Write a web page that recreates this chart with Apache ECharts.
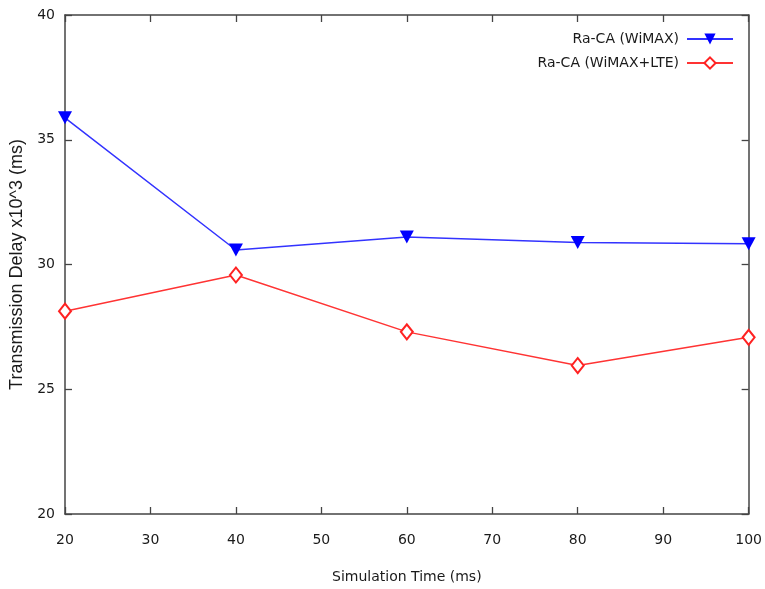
<!DOCTYPE html>
<html>
<head>
<meta charset="utf-8">
<script src="https://cdn.jsdelivr.net/npm/echarts@6/dist/echarts.min.js"></script>
<style>html,body{margin:0;padding:0;background:#fff}#c{width:765px;height:589px}</style>
</head>
<body>
<div id="c"></div>
<script>
var xValues = [20, 40, 60, 80, 100];
var wimax = [35.88, 30.58, 31.1, 30.88, 30.83];
var wimaxLte = [28.13, 29.58, 27.3, 25.95, 27.08];
var seriesNames = ['Ra-CA (WiMAX)', 'Ra-CA (WiMAX+LTE)'];
var xTitle = 'Simulation Time (ms)';
var yTitle = 'Transmission Delay x10^3 (ms)';

function pairs(ys){ return xValues.map(function(x,i){return [x, ys[i]];}); }

var font = 'DejaVu Sans';
var txtCol = '#1a1a1a';
var axisCol = '#444';
var chart = echarts.init(document.getElementById('c'));
var tickStyle = {inside: true, length: 7, lineStyle: {color: axisCol, width: 1.3}};
var lineStyleAx = {color: axisCol, width: 1.5};
chart.setOption({
  animation: false,
  grid: {left: 65, right: 15, top: 15, bottom: 75, containLabel: false},
  legend: {
    orient: 'vertical', right: 26, top: 27, align: 'right',
    itemWidth: 46, itemHeight: 14, itemGap: 10,
    textStyle: {fontFamily: font, fontSize: 14, color: txtCol, padding: [0, 3, 0, 0]},
    data: seriesNames
  },
  xAxis: [{
    type: 'value', min: 20, max: 100, interval: 10, position: 'bottom',
    name: xTitle, nameLocation: 'middle', nameGap: 56,
    nameTextStyle: {fontFamily: font, fontSize: 14, color: txtCol},
    axisLine: {show: true, onZero: false, lineStyle: lineStyleAx},
    axisTick: tickStyle,
    axisLabel: {fontFamily: font, fontSize: 14, color: txtCol, margin: 19},
    splitLine: {show: false}
  }, {
    type: 'value', min: 20, max: 100, interval: 10, position: 'top',
    axisLine: {show: true, onZero: false, lineStyle: lineStyleAx},
    axisTick: tickStyle, axisLabel: {show: false}, splitLine: {show: false}
  }],
  yAxis: [{
    type: 'value', min: 20, max: 40, interval: 5, position: 'left',
    name: yTitle, nameLocation: 'middle', nameGap: 36, nameRotate: 90,
    nameTextStyle: {fontFamily: 'Liberation Sans', fontSize: 18, color: txtCol},
    axisLine: {show: true, onZero: false, lineStyle: lineStyleAx},
    axisTick: tickStyle,
    axisLabel: {fontFamily: font, fontSize: 14, color: txtCol, margin: 10},
    splitLine: {show: false}
  }, {
    type: 'value', min: 20, max: 40, interval: 5, position: 'right',
    axisLine: {show: true, onZero: false, lineStyle: lineStyleAx},
    axisTick: tickStyle, axisLabel: {show: false}, splitLine: {show: false}
  }],
  series: [{
    name: seriesNames[0], type: 'line', data: pairs(wimax),
    symbol: 'triangle', symbolRotate: 180, symbolSize: [14, 13],
    lineStyle: {color: '#3333ff', width: 1.5},
    itemStyle: {color: '#0000ff'}
  }, {
    name: seriesNames[1], type: 'line', data: pairs(wimaxLte),
    symbol: 'emptyDiamond', symbolSize: [12, 15],
    lineStyle: {color: '#ff3333', width: 1.5},
    itemStyle: {color: '#ff2222', borderColor: '#ff2222', borderWidth: 1.3}
  }]
});
</script>
</body>
</html>
